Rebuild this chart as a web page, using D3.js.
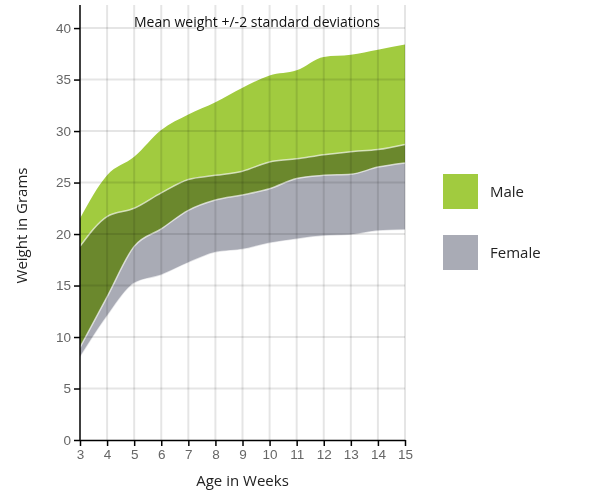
<!DOCTYPE html>
<html>
<head>
<meta charset="utf-8">
<script src="https://cdn.jsdelivr.net/npm/d3@7"></script>
<style>
  body { margin: 0; background: #fff; }
  svg { font-family: "Open Sans", "Noto Sans", sans-serif; }
</style>
</head>
<body>
<div id="chart"></div>
<script>
// ── Data: mean weight +/- 2 sd per week of age ──────────────────────────────
const weeks = [3, 4, 5, 6, 7, 8, 9, 10, 11, 12, 13, 14, 15];
const maleUpper   = [21.5, 25.7, 27.5, 30.1, 31.6, 32.8, 34.2, 35.4, 35.9, 37.2, 37.4, 37.9, 38.4];
const maleLower   = [9.0, 13.9, 18.8, 20.5, 22.3, 23.3, 23.8, 24.4, 25.4, 25.7, 25.8, 26.5, 26.9];
const femaleUpper = [18.8, 21.7, 22.5, 24.0, 25.3, 25.7, 26.1, 27.0, 27.3, 27.7, 28.0, 28.2, 28.7];
const femaleLower = [8.0, 12.0, 15.2, 16.0, 17.2, 18.2, 18.5, 19.1, 19.5, 19.8, 19.9, 20.3, 20.4];
const yTicks = [0, 5, 10, 15, 20, 25, 30, 35, 40];
const legendLabels = ['Male', 'Female'];

const WIDTH = 605, HEIGHT = 500;
const margin = { top: 5, right: 200, bottom: 60, left: 80 };
const COLOR_MALE = '#a1cb3f', COLOR_FEMALE = '#a9abb5';

const svg = d3.select('#chart').append('svg').attr('width', WIDTH).attr('height', HEIGHT);

const x = d3.scaleLinear().domain([3, 15]).range([margin.left, WIDTH - margin.right]);
const y = d3.scaleLinear().domain([0, d3.max(maleUpper) * 1.1]).range([HEIGHT - margin.bottom, margin.top]);

const rows = weeks.map((w, i) => ({
  w, mU: maleUpper[i], mL: maleLower[i], fU: femaleUpper[i], fL: femaleLower[i]
}));

const curve = d3.curveMonotoneX;
const area = (lo, hi) => d3.area().x(d => x(d.w)).y0(d => y(d[lo])).y1(d => y(d[hi])).curve(curve);
const line = key => d3.line().x(d => x(d.w)).y(d => y(d[key])).curve(curve);

// Areas: female multiplied over male gives the dark overlap band
svg.append('path').datum(rows).attr('d', area('mL', 'mU')).attr('fill', COLOR_MALE);
svg.append('path').datum(rows).attr('d', area('fL', 'fU')).attr('fill', COLOR_FEMALE)
  .style('mix-blend-mode', 'multiply');

// Pale edges along each band boundary
['mL', 'fU', 'fL'].forEach(key => {
  svg.append('path').datum(rows).attr('d', line(key))
    .attr('fill', 'none').attr('stroke', '#ffffff').attr('stroke-opacity', 0.65).attr('stroke-width', 1.5);
});

// Grid lines sit on top of the areas
const grid = svg.append('g').attr('stroke', '#000').attr('stroke-opacity', 0.1).attr('stroke-width', 2);
grid.selectAll('line.v').data(weeks.slice(1)).join('line')
  .attr('x1', d => x(d)).attr('x2', d => x(d)).attr('y1', y.range()[1]).attr('y2', y.range()[0]);
grid.selectAll('line.h').data(yTicks.slice(1)).join('line')
  .attr('x1', x.range()[0]).attr('x2', x.range()[1]).attr('y1', d => y(d)).attr('y2', d => y(d));

// Axes
const xAxis = svg.append('g').attr('transform', `translate(0,${y(0)})`)
  .call(d3.axisBottom(x).tickValues(weeks).tickFormat(d3.format('d')).tickSizeOuter(0));
const yAxis = svg.append('g').attr('transform', `translate(${x(3)},0)`)
  .call(d3.axisLeft(y).tickValues(yTicks).tickSizeOuter(0));
[xAxis, yAxis].forEach(g => {
  g.selectAll('path, line').attr('stroke', '#000').attr('stroke-width', 1.5);
  g.selectAll('text').attr('font-size', 13.5).attr('fill', '#666').attr('font-family', null);
});
yAxis.select('.domain').attr('d', `M0,${y(0)}V${margin.top}`);

// Titles
svg.append('text').attr('x', 257).attr('y', 27).attr('text-anchor', 'middle')
  .attr('font-size', 14).attr('fill', '#111').text('Mean weight +/-2 standard deviations');
svg.append('text').attr('x', (x(3) + x(15)) / 2).attr('y', 486).attr('text-anchor', 'middle')
  .attr('font-size', 15).attr('fill', '#222').text('Age in Weeks');
svg.append('text').attr('transform', `translate(27,${(y(0) + y.range()[1]) / 2 + 3}) rotate(-90)`)
  .attr('text-anchor', 'middle').attr('font-size', 15).attr('fill', '#222').text('Weight in Grams');

// Legend
const legend = svg.append('g').attr('transform', 'translate(443,174)');
const items = legend.selectAll('g').data(legendLabels).join('g')
  .attr('transform', (d, i) => `translate(0,${i * 61})`);
items.append('rect').attr('width', 35).attr('height', 35)
  .attr('fill', (d, i) => [COLOR_MALE, COLOR_FEMALE][i]);
items.append('text').attr('x', 47).attr('y', 23).attr('font-size', 15).attr('fill', '#222').text(d => d);
</script>
</body>
</html>
